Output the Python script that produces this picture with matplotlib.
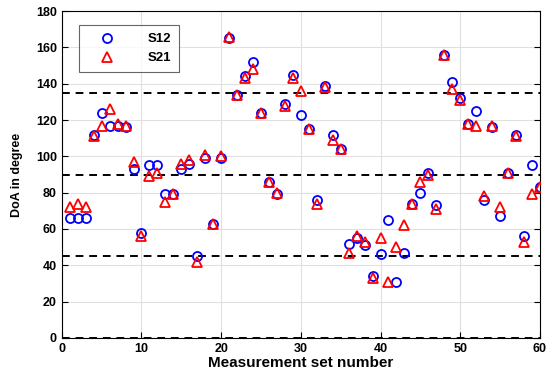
import matplotlib
matplotlib.use("Agg")
from matplotlib import pyplot as plt

plt.rcParams['font.family'] = ['Liberation Sans', 'DejaVu Sans']
plt.rcParams['font.weight'] = 'bold'

set_number = list(range(1, 61))

s12 = [66, 66, 66, 112, 124, 117, 117, 116, 93, 58,
       95, 95, 79, 79, 93, 96, 45, 99, 63, 99,
       165, 134, 144, 152, 124, 86, 79, 129, 145, 123,
       115, 76, 139, 112, 104, 52, 55, 51, 34, 46,
       65, 31, 47, 74, 80, 91, 73, 156, 141, 132,
       118, 125, 76, 116, 67, 91, 112, 56, 95, 83]

s21 = [72, 74, 72, 111, 117, 126, 118, 117, 97, 56,
       89, 91, 75, 79, 96, 98, 42, 101, 63, 100,
       166, 134, 143, 148, 124, 86, 80, 128, 143, 136,
       115, 74, 138, 109, 104, 47, 56, 53, 33, 55,
       31, 50, 62, 74, 86, 90, 71, 156, 137, 131,
       118, 117, 78, 117, 72, 91, 111, 53, 79, 83]

ref_lines = [0, 45, 90, 135, 180]

fig = plt.figure(figsize=(5.52, 3.84), dpi=100)
ax = fig.add_axes([0.112, 0.12, 0.866, 0.851])

ax.grid(True, color='#e0e0e0', linewidth=0.8)
ax.set_axisbelow(True)

for yv in ref_lines:
    ax.axhline(yv, color='black', linestyle=(0, (4, 3)), linewidth=1.4, zorder=2)

ax.plot(set_number, s12, linestyle='none', marker='o', markersize=6.5,
        markerfacecolor='none', markeredgecolor='blue', markeredgewidth=1.3,
        label='S12', zorder=3)
ax.plot(set_number, s21, linestyle='none', marker='^', markersize=7,
        markerfacecolor='none', markeredgecolor='red', markeredgewidth=1.3,
        label='S21', zorder=4)

ax.set_xlim(0, 60)
ax.set_ylim(0, 180)
ax.set_xticks(range(0, 61, 10))
ax.set_yticks(range(0, 181, 20))
ax.tick_params(direction='in', length=4, labelsize=9, top=False, right=True)
for lab in ax.get_xticklabels() + ax.get_yticklabels():
    lab.set_fontweight('bold')

ax.set_xlabel('Measurement set number', fontsize=11, fontweight='bold', labelpad=1)
ax.set_ylabel('DoA in degree', fontsize=9, fontweight='bold', labelpad=9)

leg = ax.legend(loc='upper left', bbox_to_anchor=(0.036, 0.957), fancybox=False,
                edgecolor='#404040', fontsize=9.5, handletextpad=1.6,
                borderpad=0.6, labelspacing=0.5, handlelength=3.0,
                borderaxespad=0)
leg.get_frame().set_linewidth(0.8)
for t in leg.get_texts():
    t.set_fontweight('bold')

fig.savefig('out.png', dpi=100)
